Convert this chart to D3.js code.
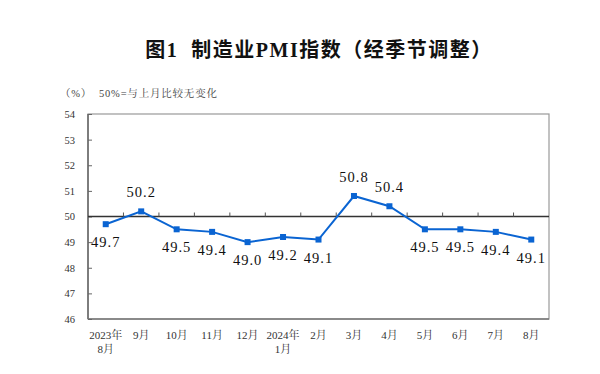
<!DOCTYPE html>
<html><head><meta charset="utf-8">
<script src="https://cdn.jsdelivr.net/npm/d3@7"></script>
<style>body{margin:0;background:#fff;}svg{display:block;}</style>
</head><body>
<script>
const categories = ["2023年\n8月","9月","10月","11月","12月","2024年\n1月","2月","3月","4月","5月","6月","7月","8月"];
const values = [49.7,50.2,49.5,49.4,49.0,49.2,49.1,50.8,50.4,49.5,49.5,49.4,49.1];
const labelAbove = [false,true,false,false,false,false,false,true,true,false,false,false,false];
const yTicks = [46,47,48,49,50,51,52,53,54];
const title = "图1  制造业PMI指数（经季节调整）";
const note = "（%）  50%=与上月比较无变化";

const W=600,H=374;
const svg=d3.select("body").append("svg").attr("width",W).attr("height",H);
const L=88,R=549,T=114,B=319;
const x=d3.scaleBand().domain(d3.range(categories.length)).range([L,R]);
const y=d3.scaleLinear().domain([46,54]).range([B,T]);
const serif='"Liberation Serif","Times New Roman",serif';
const cjk='"Liberation Serif","Noto Serif CJK SC","Noto Sans CJK SC",serif';

svg.append("text").attr("x",319).attr("y",57).attr("text-anchor","middle")
  .attr("font-family",'"Liberation Serif","Noto Sans CJK SC",sans-serif').attr("font-weight",600)
  .attr("font-size",20).attr("fill","#111").attr("letter-spacing",1.5).style("white-space","pre").text(title);
svg.append("text").attr("x",60).attr("y",97).attr("font-family",cjk)
  .attr("font-size",10.5).attr("fill","#444").attr("letter-spacing",0.8).style("white-space","pre").text(note);

// plot frame
svg.append("rect").attr("x",L).attr("y",T).attr("width",R-L).attr("height",B-T)
  .attr("fill","none").attr("stroke","#999").attr("stroke-width",1.2);
svg.append("line").attr("x1",L).attr("x2",L).attr("y1",T).attr("y2",B).attr("stroke","#666").attr("stroke-width",1.5);
svg.append("line").attr("x1",L).attr("x2",R).attr("y1",B).attr("y2",B).attr("stroke","#777").attr("stroke-width",1.5);

// y axis
const ya=svg.append("g").attr("transform",`translate(${L},0)`)
  .call(d3.axisLeft(y).tickValues(yTicks).tickSize(-4).tickPadding(13).tickFormat(d3.format("d")));
ya.select(".domain").remove();
ya.selectAll("line").attr("stroke","#666");
ya.selectAll("text").attr("font-family",serif).attr("font-size",10.5).attr("fill","#333");

// 50 baseline axis with ticks at band boundaries
svg.append("line").attr("x1",L).attr("x2",R).attr("y1",y(50)).attr("y2",y(50)).attr("stroke","#333").attr("stroke-width",1.5);
const bounds=d3.range(1,categories.length).map(i=>x(i));
svg.selectAll(".bt").data(bounds).join("line").attr("x1",d=>d).attr("x2",d=>d)
  .attr("y1",y(50)).attr("y2",y(50)-4).attr("stroke","#555");

// x labels
const xl=svg.append("g");
categories.forEach((c,i)=>{
  const lines=c.split("\n");
  const t=xl.append("text").attr("x",x(i)+x.bandwidth()/2).attr("y",339).attr("text-anchor","middle")
    .attr("font-family",cjk).attr("font-size",11).attr("fill","#333");
  lines.forEach((s,j)=>t.append("tspan").attr("x",x(i)+x.bandwidth()/2).attr("dy",j?13.5:0).text(s));
});

// line
const cx=i=>x(i)+x.bandwidth()/2;
svg.append("path").datum(values).attr("fill","none").attr("stroke","#0a64d2").attr("stroke-width",2)
  .attr("d",d3.line().x((d,i)=>cx(i)).y(d=>y(d)));
svg.selectAll(".mk").data(values).join("rect").attr("x",(d,i)=>cx(i)-3).attr("y",d=>y(d)-3)
  .attr("width",6).attr("height",6).attr("fill","#0a64d2");

// value labels
svg.selectAll(".vl").data(values).join("text")
  .attr("x",(d,i)=>cx(i)).attr("y",(d,i)=>labelAbove[i]?y(d)-14:y(d)+23)
  .attr("text-anchor","middle").attr("font-family",serif).attr("font-size",14.5).attr("fill","#111")
  .attr("letter-spacing",1).text(d=>d.toFixed(1));
</script>
</body></html>
